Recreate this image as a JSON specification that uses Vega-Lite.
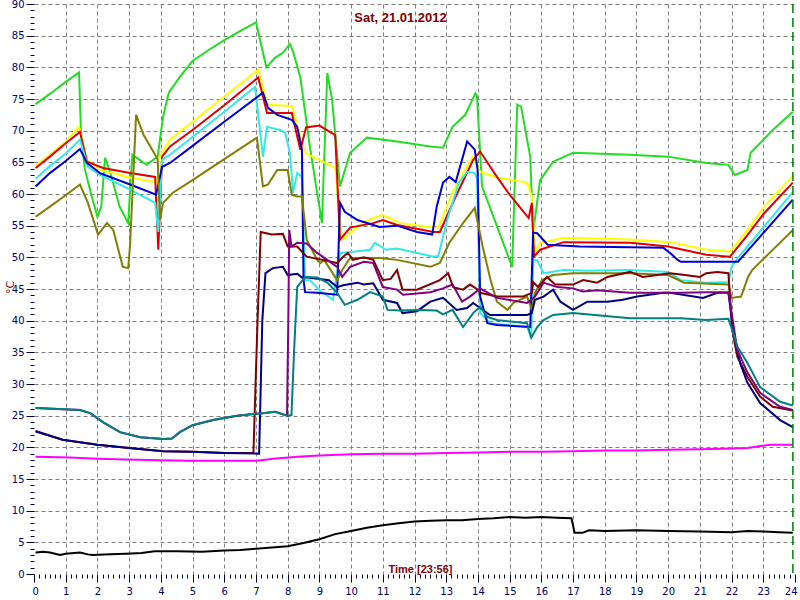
{
  "$schema": "https://vega.github.io/schema/vega-lite/v6.json",
  "width": 761,
  "height": 570,
  "autosize": "none",
  "padding": {"left": 34, "top": 4, "right": 5, "bottom": 26},
  "background": "#ffffff",
  "config": {"view": {"stroke": null}},
  "title": {"text": "Sat, 21.01.2012", "font": "Liberation Sans", "fontSize": 13, "fontWeight": "bold", "color": "#800000", "anchor": "middle", "offset": -26, "dx": -14},
  "encoding": {
    "x": {"field": "t", "type": "quantitative",
      "scale": {"domain": [0, 24], "nice": false, "zero": false},
      "axis": {
        "values": [0,0.1667,0.3333,0.5,0.6667,0.8333,1,1.1667,1.3333,1.5,1.6667,1.8333,2,2.1667,2.3333,2.5,2.6667,2.8333,3,3.1667,3.3333,3.5,3.6667,3.8333,4,4.1667,4.3333,4.5,4.6667,4.8333,5,5.1667,5.3333,5.5,5.6667,5.8333,6,6.1667,6.3333,6.5,6.6667,6.8333,7,7.1667,7.3333,7.5,7.6667,7.8333,8,8.1667,8.3333,8.5,8.6667,8.8333,9,9.1667,9.3333,9.5,9.6667,9.8333,10,10.1667,10.3333,10.5,10.6667,10.8333,11,11.1667,11.3333,11.5,11.6667,11.8333,12,12.1667,12.3333,12.5,12.6667,12.8333,13,13.1667,13.3333,13.5,13.6667,13.8333,14,14.1667,14.3333,14.5,14.6667,14.8333,15,15.1667,15.3333,15.5,15.6667,15.8333,16,16.1667,16.3333,16.5,16.6667,16.8333,17,17.1667,17.3333,17.5,17.6667,17.8333,18,18.1667,18.3333,18.5,18.6667,18.8333,19,19.1667,19.3333,19.5,19.6667,19.8333,20,20.1667,20.3333,20.5,20.6667,20.8333,21,21.1667,21.3333,21.5,21.6667,21.8333,22,22.1667,22.3333,22.5,22.6667,22.8333,23,23.1667,23.3333,23.5,23.6667,23.8333,24],
        "tickCount": 1000,
        "labelExpr": "abs(datum.value - round(datum.value)) < 0.01 ? format(round(datum.value), 'd') : ''",
        "labelFont": "DejaVu Sans", "labelFontSize": 10, "labelColor": "#000060", "labelPadding": 4,
        "labelFlush": true, "labelFlushOffset": 2, "labelOverlap": false, "labelBound": false,
        "domain": false,
        "tickColor": "#000040",
        "tickSize": {"condition": {"test": "abs(datum.value - round(datum.value)) < 0.01", "value": 8}, "value": 4},
        "grid": true, "gridColor": "#808080", "gridDash": [4, 3], "gridWidth": 1,
        "gridOpacity": {"condition": {"test": "abs(datum.value - round(datum.value)) < 0.01 && datum.value > 0.5 && datum.value < 23.5", "value": 1}, "value": 0},
        "title": "Time [23:56]", "titleFont": "Liberation Sans", "titleFontSize": 11, "titleFontWeight": "bold", "titleColor": "#800000",
        "titleX": 386, "titleY": -2, "titleBaseline": "alphabetic", "titleAnchor": null
      }
    }
  },
  "layer": [
    {
      "data": {"values": [
        {"s":"green","t":0.05,"v":74.2},{"s":"green","t":0.5,"v":75.8},{"s":"green","t":1.0,"v":77.7},{"s":"green","t":1.42,"v":79.2},{"s":"green","t":1.48,"v":70},{"s":"green","t":1.6,"v":64},{"s":"green","t":1.8,"v":60},{"s":"green","t":2.0,"v":56.4},{"s":"green","t":2.12,"v":58},{"s":"green","t":2.24,"v":65.7},{"s":"green","t":2.4,"v":63.5},{"s":"green","t":2.7,"v":58},{"s":"green","t":2.97,"v":55.4},{"s":"green","t":3.1,"v":66.2},{"s":"green","t":3.55,"v":64.6},{"s":"green","t":3.9,"v":65.9},{"s":"green","t":4.07,"v":72.2},{"s":"green","t":4.25,"v":76},{"s":"green","t":4.6,"v":78.5},{"s":"green","t":5.0,"v":81},{"s":"green","t":5.5,"v":82.7},{"s":"green","t":6.0,"v":84.3},{"s":"green","t":6.5,"v":85.7},{"s":"green","t":7.0,"v":87.1},{"s":"green","t":7.33,"v":80},{"s":"green","t":7.6,"v":81.5},{"s":"green","t":7.85,"v":82.3},{"s":"green","t":8.07,"v":83.7},{"s":"green","t":8.17,"v":82.5},{"s":"green","t":8.4,"v":78.4},{"s":"green","t":8.7,"v":67.5},{"s":"green","t":9.08,"v":55.4},{"s":"green","t":9.25,"v":79.1},{"s":"green","t":9.4,"v":74.9},{"s":"green","t":9.65,"v":61.2},{"s":"green","t":9.97,"v":66.5},{"s":"green","t":10.5,"v":68.9},{"s":"green","t":11.45,"v":68.3},{"s":"green","t":12.5,"v":67.5},{"s":"green","t":12.9,"v":67.3},{"s":"green","t":13.2,"v":70.6},{"s":"green","t":13.6,"v":72.5},{"s":"green","t":13.92,"v":75.9},{"s":"green","t":13.97,"v":75.5},{"s":"green","t":14.13,"v":61.2},{"s":"green","t":15.08,"v":48.5},{"s":"green","t":15.24,"v":74.1},{"s":"green","t":15.36,"v":73.8},{"s":"green","t":15.65,"v":65.9},{"s":"green","t":15.74,"v":53.9},{"s":"green","t":15.96,"v":62.2},{"s":"green","t":16.37,"v":65.1},{"s":"green","t":17.0,"v":66.5},{"s":"green","t":18.8,"v":66.2},{"s":"green","t":20.0,"v":65.9},{"s":"green","t":21.2,"v":64.9},{"s":"green","t":21.9,"v":64.6},{"s":"green","t":22.1,"v":63.0},{"s":"green","t":22.5,"v":63.8},{"s":"green","t":22.6,"v":66.5},{"s":"green","t":23.3,"v":70.1},{"s":"green","t":23.93,"v":73},
        {"s":"yellow","t":0.05,"v":64.5},{"s":"yellow","t":0.5,"v":66.2},{"s":"yellow","t":1.0,"v":68.3},{"s":"yellow","t":1.42,"v":70.6},{"s":"yellow","t":1.67,"v":65.4},{"s":"yellow","t":2.08,"v":63.8},{"s":"yellow","t":3.03,"v":62.6},{"s":"yellow","t":3.88,"v":61.8},{"s":"yellow","t":3.97,"v":65.9},{"s":"yellow","t":4.29,"v":68.6},{"s":"yellow","t":5.0,"v":71.4},{"s":"yellow","t":6.0,"v":75.4},{"s":"yellow","t":7.07,"v":79.6},{"s":"yellow","t":7.38,"v":74.1},{"s":"yellow","t":8.13,"v":73.9},{"s":"yellow","t":8.55,"v":66.5},{"s":"yellow","t":9.18,"v":64.9},{"s":"yellow","t":9.5,"v":64.1},{"s":"yellow","t":9.72,"v":52.8},{"s":"yellow","t":10.4,"v":55.6},{"s":"yellow","t":10.98,"v":56.7},{"s":"yellow","t":11.55,"v":55.4},{"s":"yellow","t":12.6,"v":54.7},{"s":"yellow","t":12.75,"v":54.7},{"s":"yellow","t":13.2,"v":60.2},{"s":"yellow","t":13.53,"v":63.3},{"s":"yellow","t":13.85,"v":65.9},{"s":"yellow","t":14.07,"v":63.5},{"s":"yellow","t":14.6,"v":62.6},{"s":"yellow","t":15.55,"v":61.8},{"s":"yellow","t":15.7,"v":59.6},{"s":"yellow","t":15.8,"v":50.7},{"s":"yellow","t":15.96,"v":52.3},{"s":"yellow","t":16.7,"v":53.1},{"s":"yellow","t":18.8,"v":52.8},{"s":"yellow","t":20.06,"v":52.4},{"s":"yellow","t":21.2,"v":51.2},{"s":"yellow","t":21.95,"v":50.9},{"s":"yellow","t":22.5,"v":54.3},{"s":"yellow","t":23.0,"v":57.8},{"s":"yellow","t":23.93,"v":62.9},
        {"s":"red","t":0.05,"v":64.1},{"s":"red","t":0.5,"v":65.9},{"s":"red","t":1.0,"v":68},{"s":"red","t":1.45,"v":69.8},{"s":"red","t":1.67,"v":65.1},{"s":"red","t":2.18,"v":64.1},{"s":"red","t":3.03,"v":63.3},{"s":"red","t":3.82,"v":62.7},{"s":"red","t":3.92,"v":51.2},{"s":"red","t":4.04,"v":65.9},{"s":"red","t":4.29,"v":67.5},{"s":"red","t":5.0,"v":70.1},{"s":"red","t":6.0,"v":74},{"s":"red","t":7.07,"v":78.4},{"s":"red","t":7.35,"v":72.8},{"s":"red","t":8.13,"v":72.8},{"s":"red","t":8.4,"v":67},{"s":"red","t":8.58,"v":70.5},{"s":"red","t":9.0,"v":70.8},{"s":"red","t":9.5,"v":69.3},{"s":"red","t":9.65,"v":52.8},{"s":"red","t":9.97,"v":54.7},{"s":"red","t":10.7,"v":55.4},{"s":"red","t":11.0,"v":55.9},{"s":"red","t":11.45,"v":55.1},{"s":"red","t":12.6,"v":54},{"s":"red","t":12.8,"v":54},{"s":"red","t":13.3,"v":59.6},{"s":"red","t":13.85,"v":65.4},{"s":"red","t":14.07,"v":66.7},{"s":"red","t":14.6,"v":62.7},{"s":"red","t":15.0,"v":59.9},{"s":"red","t":15.6,"v":56.2},{"s":"red","t":15.7,"v":58.6},{"s":"red","t":15.77,"v":50.1},{"s":"red","t":15.96,"v":51.2},{"s":"red","t":16.7,"v":52.4},{"s":"red","t":18.8,"v":52.3},{"s":"red","t":20.0,"v":51.7},{"s":"red","t":21.2,"v":50.4},{"s":"red","t":21.95,"v":50.1},{"s":"red","t":22.5,"v":53.5},{"s":"red","t":23.0,"v":56.8},{"s":"red","t":23.93,"v":61.8},
        {"s":"cyan","t":0.05,"v":62.4},{"s":"cyan","t":0.5,"v":64.4},{"s":"cyan","t":1.0,"v":66.4},{"s":"cyan","t":1.45,"v":68.6},{"s":"cyan","t":1.7,"v":64.3},{"s":"cyan","t":2.08,"v":63},{"s":"cyan","t":3.03,"v":60.7},{"s":"cyan","t":3.82,"v":58.6},{"s":"cyan","t":3.92,"v":54},{"s":"cyan","t":4.04,"v":65.4},{"s":"cyan","t":4.29,"v":66.2},{"s":"cyan","t":5.0,"v":69},{"s":"cyan","t":6.0,"v":73},{"s":"cyan","t":6.97,"v":76.9},{"s":"cyan","t":7.22,"v":65.9},{"s":"cyan","t":7.35,"v":70.6},{"s":"cyan","t":7.76,"v":70.1},{"s":"cyan","t":7.92,"v":69.7},{"s":"cyan","t":8.07,"v":66.5},{"s":"cyan","t":8.17,"v":60.2},{"s":"cyan","t":8.3,"v":63.3},{"s":"cyan","t":8.45,"v":62.7},{"s":"cyan","t":8.55,"v":46.4},{"s":"cyan","t":8.7,"v":46.4},{"s":"cyan","t":9.0,"v":44.8},{"s":"cyan","t":9.43,"v":43.3},{"s":"cyan","t":9.65,"v":50.7},{"s":"cyan","t":10.06,"v":50.9},{"s":"cyan","t":10.6,"v":51.2},{"s":"cyan","t":10.75,"v":52.3},{"s":"cyan","t":11.1,"v":51.2},{"s":"cyan","t":11.45,"v":51.4},{"s":"cyan","t":12.08,"v":50.7},{"s":"cyan","t":12.6,"v":50.1},{"s":"cyan","t":12.75,"v":50.2},{"s":"cyan","t":13.03,"v":55.9},{"s":"cyan","t":13.4,"v":61.8},{"s":"cyan","t":13.66,"v":63.5},{"s":"cyan","t":13.9,"v":63.3},{"s":"cyan","t":13.97,"v":62.5},{"s":"cyan","t":14.07,"v":41.2},{"s":"cyan","t":14.4,"v":39.6},{"s":"cyan","t":15.55,"v":39},{"s":"cyan","t":15.68,"v":37.4},{"s":"cyan","t":15.75,"v":49.6},{"s":"cyan","t":15.87,"v":49.5},{"s":"cyan","t":16.07,"v":47.5},{"s":"cyan","t":16.7,"v":48},{"s":"cyan","t":17.5,"v":47.9},{"s":"cyan","t":18.8,"v":48},{"s":"cyan","t":20.0,"v":47.7},{"s":"cyan","t":20.4,"v":46.4},{"s":"cyan","t":21.2,"v":46},{"s":"cyan","t":21.9,"v":46.1},{"s":"cyan","t":22.0,"v":48.5},{"s":"cyan","t":22.2,"v":49.9},{"s":"cyan","t":23.93,"v":60.3},
        {"s":"blue","t":0.05,"v":61.2},{"s":"blue","t":0.5,"v":63.3},{"s":"blue","t":1.0,"v":65.2},{"s":"blue","t":1.45,"v":67.1},{"s":"blue","t":1.67,"v":64.9},{"s":"blue","t":2.08,"v":63.3},{"s":"blue","t":3.03,"v":61.5},{"s":"blue","t":3.85,"v":59.9},{"s":"blue","t":4.04,"v":64.3},{"s":"blue","t":4.29,"v":64.9},{"s":"blue","t":5.0,"v":67.6},{"s":"blue","t":6.0,"v":71.4},{"s":"blue","t":7.22,"v":76},{"s":"blue","t":7.38,"v":73.6},{"s":"blue","t":7.67,"v":72.5},{"s":"blue","t":8.13,"v":71.7},{"s":"blue","t":8.3,"v":70.6},{"s":"blue","t":8.45,"v":67},{"s":"blue","t":8.5,"v":46.4},{"s":"blue","t":8.55,"v":44.5},{"s":"blue","t":8.93,"v":44.4},{"s":"blue","t":9.56,"v":44.1},{"s":"blue","t":9.65,"v":58.6},{"s":"blue","t":9.8,"v":57.2},{"s":"blue","t":10.2,"v":55.9},{"s":"blue","t":10.9,"v":54.8},{"s":"blue","t":11.45,"v":55.0},{"s":"blue","t":12.08,"v":54},{"s":"blue","t":12.56,"v":53.6},{"s":"blue","t":12.7,"v":58},{"s":"blue","t":12.9,"v":61.8},{"s":"blue","t":13.1,"v":62.7},{"s":"blue","t":13.3,"v":61.9},{"s":"blue","t":13.66,"v":68.3},{"s":"blue","t":13.9,"v":67},{"s":"blue","t":13.99,"v":63.8},{"s":"blue","t":14.07,"v":43.8},{"s":"blue","t":14.3,"v":39.6},{"s":"blue","t":14.6,"v":39.3},{"s":"blue","t":15.65,"v":39},{"s":"blue","t":15.74,"v":53.9},{"s":"blue","t":15.87,"v":53.8},{"s":"blue","t":16.2,"v":52},{"s":"blue","t":17.2,"v":51.7},{"s":"blue","t":19.85,"v":51.5},{"s":"blue","t":20.06,"v":50.7},{"s":"blue","t":20.3,"v":49.6},{"s":"blue","t":20.4,"v":49.3},{"s":"blue","t":22.2,"v":49.3},{"s":"blue","t":23.93,"v":59.1},
        {"s":"olive","t":0.05,"v":56.4},{"s":"olive","t":0.5,"v":58},{"s":"olive","t":1.0,"v":59.8},{"s":"olive","t":1.45,"v":61.5},{"s":"olive","t":1.7,"v":58.6},{"s":"olive","t":2.02,"v":53.6},{"s":"olive","t":2.3,"v":55.4},{"s":"olive","t":2.5,"v":54.3},{"s":"olive","t":2.8,"v":48.5},{"s":"olive","t":2.97,"v":48.3},{"s":"olive","t":3.03,"v":52},{"s":"olive","t":3.22,"v":72.5},{"s":"olive","t":3.45,"v":69.4},{"s":"olive","t":3.76,"v":66.7},{"s":"olive","t":3.9,"v":65.5},{"s":"olive","t":3.97,"v":55.9},{"s":"olive","t":4.07,"v":58.6},{"s":"olive","t":4.38,"v":60.2},{"s":"olive","t":5.0,"v":62.2},{"s":"olive","t":6.0,"v":65.5},{"s":"olive","t":7.03,"v":68.9},{"s":"olive","t":7.22,"v":61.2},{"s":"olive","t":7.38,"v":61.5},{"s":"olive","t":7.67,"v":63.8},{"s":"olive","t":8.0,"v":63.8},{"s":"olive","t":8.13,"v":59.9},{"s":"olive","t":8.3,"v":59.6},{"s":"olive","t":8.45,"v":59.6},{"s":"olive","t":8.6,"v":52.8},{"s":"olive","t":8.93,"v":49.6},{"s":"olive","t":9.03,"v":49.1},{"s":"olive","t":9.15,"v":49.6},{"s":"olive","t":9.56,"v":46.4},{"s":"olive","t":9.72,"v":48},{"s":"olive","t":9.97,"v":49.9},{"s":"olive","t":10.9,"v":49.9},{"s":"olive","t":11.45,"v":49.6},{"s":"olive","t":12.5,"v":48.5},{"s":"olive","t":12.8,"v":49.1},{"s":"olive","t":13.1,"v":52.3},{"s":"olive","t":13.53,"v":55.4},{"s":"olive","t":13.9,"v":57.8},{"s":"olive","t":14.15,"v":51.7},{"s":"olive","t":14.4,"v":46.4},{"s":"olive","t":14.6,"v":43},{"s":"olive","t":14.93,"v":41.7},{"s":"olive","t":15.12,"v":42.8},{"s":"olive","t":15.55,"v":43.8},{"s":"olive","t":15.7,"v":41.7},{"s":"olive","t":15.8,"v":44.4},{"s":"olive","t":16.02,"v":46.4},{"s":"olive","t":16.37,"v":47.2},{"s":"olive","t":17.0,"v":47.5},{"s":"olive","t":18.8,"v":47.5},{"s":"olive","t":20.0,"v":47.2},{"s":"olive","t":20.5,"v":46},{"s":"olive","t":21.9,"v":45.7},{"s":"olive","t":22.0,"v":43.6},{"s":"olive","t":22.3,"v":43.8},{"s":"olive","t":22.52,"v":46.9},{"s":"olive","t":22.65,"v":48},{"s":"olive","t":23.93,"v":54.3},
        {"s":"maroon","t":0.05,"v":22.6},{"s":"maroon","t":0.9,"v":21.2},{"s":"maroon","t":2.0,"v":20.4},{"s":"maroon","t":3.0,"v":19.9},{"s":"maroon","t":4.08,"v":19.4},{"s":"maroon","t":5.0,"v":19.3},{"s":"maroon","t":6.0,"v":19.1},{"s":"maroon","t":6.92,"v":19.1},{"s":"maroon","t":7.05,"v":40},{"s":"maroon","t":7.15,"v":54},{"s":"maroon","t":7.5,"v":53.6},{"s":"maroon","t":7.85,"v":53.7},{"s":"maroon","t":8.0,"v":51.7},{"s":"maroon","t":8.3,"v":51.7},{"s":"maroon","t":8.6,"v":50.1},{"s":"maroon","t":9.1,"v":49.6},{"s":"maroon","t":9.56,"v":49.1},{"s":"maroon","t":9.75,"v":50.1},{"s":"maroon","t":9.9,"v":50.7},{"s":"maroon","t":10.06,"v":49.6},{"s":"maroon","t":10.4,"v":50},{"s":"maroon","t":10.7,"v":49.6},{"s":"maroon","t":11.0,"v":46.4},{"s":"maroon","t":11.25,"v":46.6},{"s":"maroon","t":11.45,"v":48},{"s":"maroon","t":11.62,"v":44.9},{"s":"maroon","t":12.08,"v":44.9},{"s":"maroon","t":12.8,"v":46.4},{"s":"maroon","t":13.06,"v":47.5},{"s":"maroon","t":13.22,"v":45.3},{"s":"maroon","t":13.53,"v":44.9},{"s":"maroon","t":13.75,"v":45.7},{"s":"maroon","t":14.0,"v":44.9},{"s":"maroon","t":14.07,"v":44.4},{"s":"maroon","t":14.6,"v":43.8},{"s":"maroon","t":15.42,"v":43.8},{"s":"maroon","t":15.7,"v":44.4},{"s":"maroon","t":15.74,"v":46.1},{"s":"maroon","t":15.9,"v":45.3},{"s":"maroon","t":16.18,"v":46.9},{"s":"maroon","t":16.43,"v":45.7},{"s":"maroon","t":17.0,"v":45.7},{"s":"maroon","t":17.32,"v":46.4},{"s":"maroon","t":17.76,"v":46},{"s":"maroon","t":18.08,"v":46.9},{"s":"maroon","t":18.8,"v":47.7},{"s":"maroon","t":19.2,"v":46.9},{"s":"maroon","t":20.06,"v":47.5},{"s":"maroon","t":20.4,"v":47.3},{"s":"maroon","t":21.0,"v":46.9},{"s":"maroon","t":21.2,"v":47.5},{"s":"maroon","t":21.55,"v":47.7},{"s":"maroon","t":21.9,"v":47.5},{"s":"maroon","t":22.02,"v":38.5},{"s":"maroon","t":22.18,"v":34.3},{"s":"maroon","t":22.5,"v":31.1},{"s":"maroon","t":22.9,"v":28},{"s":"maroon","t":23.3,"v":26.4},{"s":"maroon","t":23.93,"v":25.8},
        {"s":"navy","t":0.05,"v":22.5},{"s":"navy","t":0.9,"v":21.2},{"s":"navy","t":2.0,"v":20.4},{"s":"navy","t":3.0,"v":19.9},{"s":"navy","t":4.08,"v":19.4},{"s":"navy","t":5.0,"v":19.3},{"s":"navy","t":6.0,"v":19.1},{"s":"navy","t":7.1,"v":19.0},{"s":"navy","t":7.2,"v":40},{"s":"navy","t":7.3,"v":47.5},{"s":"navy","t":7.53,"v":48.3},{"s":"navy","t":7.85,"v":48.5},{"s":"navy","t":8.0,"v":47.2},{"s":"navy","t":8.3,"v":47.4},{"s":"navy","t":8.45,"v":46.8},{"s":"navy","t":8.63,"v":46.8},{"s":"navy","t":9.3,"v":46.4},{"s":"navy","t":9.56,"v":45.3},{"s":"navy","t":9.75,"v":45.6},{"s":"navy","t":10.2,"v":46},{"s":"navy","t":10.4,"v":45.7},{"s":"navy","t":10.7,"v":45.9},{"s":"navy","t":11.0,"v":43.3},{"s":"navy","t":11.45,"v":42.8},{"s":"navy","t":11.62,"v":41.2},{"s":"navy","t":12.08,"v":41.5},{"s":"navy","t":12.5,"v":43},{"s":"navy","t":12.9,"v":43.6},{"s":"navy","t":13.33,"v":41.7},{"s":"navy","t":13.66,"v":42},{"s":"navy","t":13.85,"v":42.8},{"s":"navy","t":14.07,"v":42},{"s":"navy","t":14.38,"v":40.9},{"s":"navy","t":15.55,"v":40.9},{"s":"navy","t":15.7,"v":41.2},{"s":"navy","t":15.8,"v":43.3},{"s":"navy","t":16.07,"v":43.8},{"s":"navy","t":16.37,"v":44.9},{"s":"navy","t":16.6,"v":43},{"s":"navy","t":17.0,"v":41.7},{"s":"navy","t":17.45,"v":43},{"s":"navy","t":18.08,"v":43},{"s":"navy","t":18.57,"v":43.3},{"s":"navy","t":19.02,"v":43.8},{"s":"navy","t":19.85,"v":44.4},{"s":"navy","t":20.06,"v":44.4},{"s":"navy","t":21.1,"v":43.6},{"s":"navy","t":21.55,"v":44.4},{"s":"navy","t":21.9,"v":44.4},{"s":"navy","t":22.05,"v":38.5},{"s":"navy","t":22.27,"v":33.3},{"s":"navy","t":22.5,"v":30.2},{"s":"navy","t":22.9,"v":27},{"s":"navy","t":23.53,"v":24.3},{"s":"navy","t":23.93,"v":23.2},
        {"s":"purple","t":0.05,"v":26.2},{"s":"purple","t":1.45,"v":25.9},{"s":"purple","t":1.77,"v":25.4},{"s":"purple","t":2.2,"v":23.9},{"s":"purple","t":2.71,"v":22.4},{"s":"purple","t":3.35,"v":21.6},{"s":"purple","t":4.08,"v":21.3},{"s":"purple","t":4.35,"v":21.4},{"s":"purple","t":4.6,"v":22.4},{"s":"purple","t":5.0,"v":23.5},{"s":"purple","t":5.65,"v":24.3},{"s":"purple","t":6.4,"v":25.0},{"s":"purple","t":7.22,"v":25.4},{"s":"purple","t":7.6,"v":25.6},{"s":"purple","t":7.98,"v":25.0},{"s":"purple","t":8.02,"v":40},{"s":"purple","t":8.05,"v":54.3},{"s":"purple","t":8.12,"v":51.7},{"s":"purple","t":8.3,"v":52.3},{"s":"purple","t":8.6,"v":52.2},{"s":"purple","t":8.93,"v":50.7},{"s":"purple","t":9.25,"v":49.6},{"s":"purple","t":9.56,"v":48.5},{"s":"purple","t":9.72,"v":46.9},{"s":"purple","t":9.97,"v":48.5},{"s":"purple","t":10.4,"v":49.3},{"s":"purple","t":10.7,"v":49.1},{"s":"purple","t":11.0,"v":45.3},{"s":"purple","t":11.45,"v":44.9},{"s":"purple","t":11.64,"v":44.1},{"s":"purple","t":12.5,"v":44.5},{"s":"purple","t":12.9,"v":45.1},{"s":"purple","t":13.2,"v":45.7},{"s":"purple","t":13.5,"v":43},{"s":"purple","t":13.75,"v":43.8},{"s":"purple","t":14.07,"v":45.1},{"s":"purple","t":14.6,"v":43.6},{"s":"purple","t":15.55,"v":42.8},{"s":"purple","t":15.8,"v":43.8},{"s":"purple","t":16.07,"v":46},{"s":"purple","t":16.5,"v":45.3},{"s":"purple","t":17.0,"v":45.1},{"s":"purple","t":17.3,"v":44.6},{"s":"purple","t":17.76,"v":44.8},{"s":"purple","t":18.8,"v":44.4},{"s":"purple","t":20.4,"v":44.4},{"s":"purple","t":21.2,"v":44.5},{"s":"purple","t":21.9,"v":44.5},{"s":"purple","t":22.02,"v":40.6},{"s":"purple","t":22.18,"v":35.4},{"s":"purple","t":22.5,"v":31.8},{"s":"purple","t":22.9,"v":28.6},{"s":"purple","t":23.53,"v":26.4},{"s":"purple","t":23.93,"v":25.9},
        {"s":"teal","t":0.05,"v":26.2},{"s":"teal","t":1.45,"v":25.9},{"s":"teal","t":1.77,"v":25.4},{"s":"teal","t":2.2,"v":23.9},{"s":"teal","t":2.71,"v":22.4},{"s":"teal","t":3.35,"v":21.6},{"s":"teal","t":4.08,"v":21.3},{"s":"teal","t":4.35,"v":21.4},{"s":"teal","t":4.6,"v":22.4},{"s":"teal","t":5.0,"v":23.5},{"s":"teal","t":5.65,"v":24.3},{"s":"teal","t":6.4,"v":25.0},{"s":"teal","t":7.22,"v":25.4},{"s":"teal","t":7.6,"v":25.6},{"s":"teal","t":7.98,"v":25.0},{"s":"teal","t":8.12,"v":25.1},{"s":"teal","t":8.2,"v":35},{"s":"teal","t":8.3,"v":45.3},{"s":"teal","t":8.55,"v":46.9},{"s":"teal","t":8.93,"v":46.8},{"s":"teal","t":9.25,"v":46},{"s":"teal","t":9.56,"v":44.4},{"s":"teal","t":9.8,"v":42.5},{"s":"teal","t":10.2,"v":43.3},{"s":"teal","t":10.6,"v":44.5},{"s":"teal","t":11.0,"v":43.8},{"s":"teal","t":11.15,"v":41.7},{"s":"teal","t":11.55,"v":41.6},{"s":"teal","t":12.08,"v":41.7},{"s":"teal","t":12.7,"v":41.6},{"s":"teal","t":12.9,"v":41.0},{"s":"teal","t":13.2,"v":41.7},{"s":"teal","t":13.53,"v":39},{"s":"teal","t":13.85,"v":41.2},{"s":"teal","t":14.07,"v":42.2},{"s":"teal","t":14.3,"v":40.6},{"s":"teal","t":14.6,"v":40.1},{"s":"teal","t":15.55,"v":39.6},{"s":"teal","t":15.68,"v":37.3},{"s":"teal","t":15.87,"v":39},{"s":"teal","t":16.07,"v":40.1},{"s":"teal","t":16.37,"v":40.9},{"s":"teal","t":17.0,"v":41.2},{"s":"teal","t":18.8,"v":40.4},{"s":"teal","t":20.4,"v":40.4},{"s":"teal","t":21.2,"v":40.1},{"s":"teal","t":21.9,"v":40.3},{"s":"teal","t":22.02,"v":38.5},{"s":"teal","t":22.18,"v":35.9},{"s":"teal","t":22.5,"v":33.3},{"s":"teal","t":22.9,"v":29.5},{"s":"teal","t":23.53,"v":27.2},{"s":"teal","t":23.93,"v":26.6},
        {"s":"magenta","t":0.05,"v":18.5},{"s":"magenta","t":1.14,"v":18.4},{"s":"magenta","t":2.0,"v":18.2},{"s":"magenta","t":3.56,"v":18.0},{"s":"magenta","t":4.9,"v":17.9},{"s":"magenta","t":7.03,"v":17.9},{"s":"magenta","t":7.54,"v":18.2},{"s":"magenta","t":8.3,"v":18.5},{"s":"magenta","t":9.0,"v":18.7},{"s":"magenta","t":10.0,"v":18.9},{"s":"magenta","t":11.0,"v":19.0},{"s":"magenta","t":12.0,"v":19.0},{"s":"magenta","t":13.0,"v":19.1},{"s":"magenta","t":14.0,"v":19.2},{"s":"magenta","t":15.0,"v":19.3},{"s":"magenta","t":16.0,"v":19.3},{"s":"magenta","t":17.0,"v":19.4},{"s":"magenta","t":18.0,"v":19.5},{"s":"magenta","t":19.0,"v":19.5},{"s":"magenta","t":20.0,"v":19.6},{"s":"magenta","t":21.0,"v":19.7},{"s":"magenta","t":22.0,"v":19.8},{"s":"magenta","t":22.5,"v":19.9},{"s":"magenta","t":23.2,"v":20.4},{"s":"magenta","t":23.93,"v":20.4},
        {"s":"black","t":0.05,"v":3.4},{"s":"black","t":0.3,"v":3.5},{"s":"black","t":0.5,"v":3.4},{"s":"black","t":0.82,"v":3.0},{"s":"black","t":1.0,"v":3.2},{"s":"black","t":1.45,"v":3.4},{"s":"black","t":1.7,"v":3.1},{"s":"black","t":1.85,"v":3.0},{"s":"black","t":2.4,"v":3.1},{"s":"black","t":2.9,"v":3.2},{"s":"black","t":3.4,"v":3.3},{"s":"black","t":3.8,"v":3.6},{"s":"black","t":4.5,"v":3.6},{"s":"black","t":5.3,"v":3.5},{"s":"black","t":6.0,"v":3.7},{"s":"black","t":6.5,"v":3.8},{"s":"black","t":7.0,"v":4.0},{"s":"black","t":7.5,"v":4.2},{"s":"black","t":8.0,"v":4.4},{"s":"black","t":8.5,"v":4.9},{"s":"black","t":9.0,"v":5.5},{"s":"black","t":9.5,"v":6.3},{"s":"black","t":10.0,"v":6.8},{"s":"black","t":10.5,"v":7.3},{"s":"black","t":11.0,"v":7.7},{"s":"black","t":11.5,"v":8.0},{"s":"black","t":12.0,"v":8.3},{"s":"black","t":12.5,"v":8.4},{"s":"black","t":13.0,"v":8.5},{"s":"black","t":13.5,"v":8.5},{"s":"black","t":14.0,"v":8.7},{"s":"black","t":14.5,"v":8.8},{"s":"black","t":15.0,"v":9.0},{"s":"black","t":15.5,"v":8.9},{"s":"black","t":16.0,"v":9.0},{"s":"black","t":16.5,"v":8.9},{"s":"black","t":16.95,"v":8.8},{"s":"black","t":17.05,"v":6.5},{"s":"black","t":17.3,"v":6.5},{"s":"black","t":17.5,"v":6.9},{"s":"black","t":18.0,"v":6.8},{"s":"black","t":19.0,"v":6.9},{"s":"black","t":20.0,"v":6.8},{"s":"black","t":21.0,"v":6.7},{"s":"black","t":22.0,"v":6.6},{"s":"black","t":22.5,"v":6.8},{"s":"black","t":23.0,"v":6.7},{"s":"black","t":23.5,"v":6.6},{"s":"black","t":23.93,"v":6.5}
      ]},
      "mark": {"type": "line", "strokeWidth": 2, "clip": true},
      "encoding": {
        "y": {"field": "v", "type": "quantitative",
          "scale": {"domain": [0, 90], "nice": false, "zero": false},
          "axis": {
            "values": [0,1,2,3,4,5,6,7,8,9,10,11,12,13,14,15,16,17,18,19,20,21,22,23,24,25,26,27,28,29,30,31,32,33,34,35,36,37,38,39,40,41,42,43,44,45,46,47,48,49,50,51,52,53,54,55,56,57,58,59,60,61,62,63,64,65,66,67,68,69,70,71,72,73,74,75,76,77,78,79,80,81,82,83,84,85,86,87,88,89,90],
            "tickCount": 1000,
            "labelExpr": "datum.value % 5 === 0 ? format(datum.value, 'd') : ''",
            "labelFont": "DejaVu Sans", "labelFontSize": 10, "labelColor": "#000060", "labelPadding": 2,
            "labelFlush": false, "labelOverlap": false, "labelBound": false,
            "domain": false,
            "tickColor": "#000040",
            "tickSize": {"condition": {"test": "datum.value % 5 === 0", "value": 8}, "value": 4},
            "grid": true, "gridColor": "#808080", "gridDash": [4, 3], "gridWidth": 1,
            "gridOpacity": {"condition": {"test": "datum.value % 5 === 0 && datum.value > 0", "value": 1}, "value": 0},
            "title": "°C", "titleFont": "DejaVu Sans", "titleFontSize": 11, "titleFontWeight": "normal", "titleColor": "#800000",
            "titleX": -24, "titleY": 283, "titleAngle": -90, "titleAlign": "center", "titleBaseline": "middle"
          }
        },
        "color": {"field": "s", "type": "nominal", "legend": null,
          "scale": {
            "domain": ["green", "yellow", "red", "cyan", "blue", "olive", "maroon", "navy", "purple", "teal", "magenta", "black"],
            "range": ["#22dd22", "#ffff00", "#e00000", "#33e8e8", "#0000d0", "#808000", "#800000", "#000080", "#800080", "#008080", "#ff00ff", "#000000"]
          }
        }
      }
    },
    {
      "data": {"values": [{"t": 23.933}]},
      "mark": {"type": "rule", "color": "#008000", "strokeWidth": 1.5, "strokeDash": [9, 5]},
      "encoding": {}
    }
  ]
}
